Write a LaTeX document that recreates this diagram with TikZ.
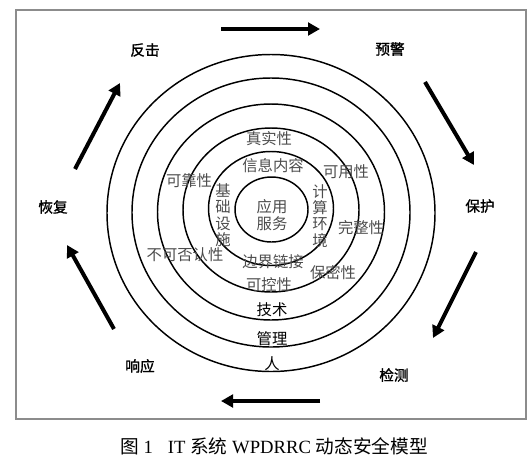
\documentclass[tikz,border=0pt]{standalone}
\usepackage{fontspec}
\setmainfont{Liberation Serif}
\newfontfamily\cjk{Noto Sans CJK SC}
\newfontfamily\cjkb{Noto Sans CJK SC}[FakeBold=1.2]
\usetikzlibrary{arrows.meta}
\definecolor{ringtext}{gray}{0.3}
\definecolor{framegray}{gray}{0.55}

\tikzset{
  ring/.style={line width=1.1pt,draw=black},
  phase/.style={font=\cjkb\fontsize{11}{12}\selectfont,text=black},
  layer/.style={font=\cjk\fontsize{11.5}{12.3}\selectfont,text=black},
  prop/.style={font=\cjk\fontsize{11.5}{12.3}\selectfont,text=ringtext,align=center},
  cycle/.style={line width=3pt,-{Triangle[length=9pt,width=9.5pt]}}
}

\begin{document}
\begin{tikzpicture}[x=.75pt,y=-.75pt,inner sep=0pt]

\useasboundingbox (0,0) rectangle (531,458);
\draw[draw=framegray,line width=.9pt] (16,10) rectangle (526,419);

% rings
\draw[ring] (271,213) ellipse [x radius=164,y radius=158.5];
\draw[ring] (271,212.5) ellipse [x radius=139,y radius=134.5];
\draw[ring] (271,212) ellipse [x radius=113.5,y radius=108];
\draw[ring] (271,210) ellipse [x radius=88,y radius=82];
\draw[ring] (271,208.5) ellipse [x radius=62.5,y radius=57];
\draw[ring] (271.5,209.5) ellipse [x radius=36.5,y radius=32.5];

% centre and ring texts
\node[prop] (app) at (272,215) {应用\\服务};
\node[prop] (info) at (273,166) {信息内容};
\node[prop] (infra) at (223,215) {基\\础\\设\\施};
\node[prop] (comp) at (320,216) {计\\算\\环\\境};
\node[prop] (edge) at (273,262) {边界链接};
\node[prop] (auth) at (269,139) {真实性};
\node[prop] (avail) at (346,172) {可用性};
\node[prop] (rel) at (189,181) {可靠性};
\node[prop] (integ) at (361,228) {完整性};
\node[prop] (nonrep) at (185,255) {不可否认性};
\node[prop] (conf) at (333,273) {保密性};
\node[prop] (ctrl) at (269,285) {可控性};
\node[layer] (tech) at (272,310) {技术};
\node[layer] (mgmt) at (272,339) {管理};
\node[layer] (people) at (272,364) {人};

% WPDRRC phases
\node[phase] (fanji) at (145,50) {反击};
\node[phase] (yujing) at (390,49) {预警};
\node[phase] (baohu) at (480,206) {保护};
\node[phase] (jiance) at (394,375) {检测};
\node[phase] (xiangying) at (140,366) {响应};
\node[phase] (huifu) at (53,207) {恢复};

\coordinate (t1) at (221,29);  \coordinate (t2) at (320,29);
\coordinate (r1) at (425,82);  \coordinate (r2) at (474,165);
\coordinate (s1) at (476,252); \coordinate (s2) at (433,338);
\coordinate (b1) at (320,401); \coordinate (b2) at (221,401);
\coordinate (l1) at (114,329); \coordinate (l2) at (67,245);
\coordinate (u1) at (75,169);  \coordinate (u2) at (120,83);

\draw[cycle] (t1) -- (t2);
\draw[cycle] (r1) -- (r2);
\draw[cycle] (s1) -- (s2);
\draw[cycle] (b1) -- (b2);
\draw[cycle] (l1) -- (l2);
\draw[cycle] (u1) -- (u2);

\node[font=\fontsize{14}{16}\selectfont] (caption) at (274,446)
  {{\cjk 图}~1\hspace{0.8em}IT {\cjk 系统} WPDRRC {\cjk 动态安全模型}};

\end{tikzpicture}
\end{document}
